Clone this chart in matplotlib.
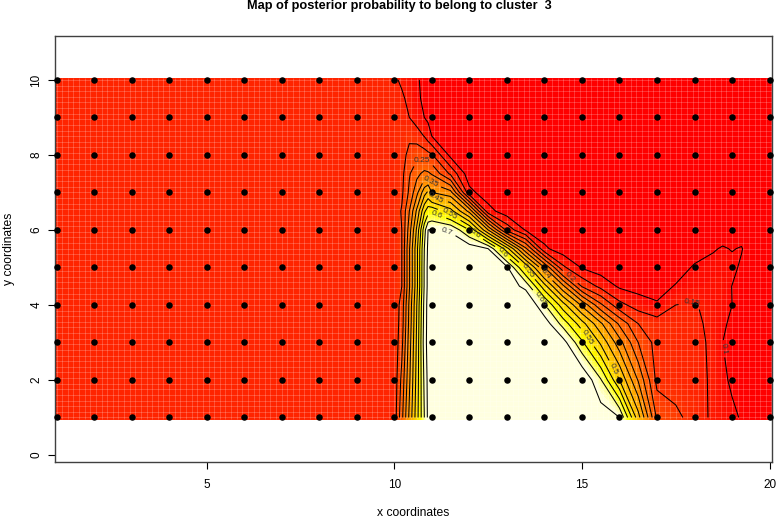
import numpy as np
import matplotlib
matplotlib.use("Agg")
import matplotlib.pyplot as plt
from matplotlib.colors import LinearSegmentedColormap

plt.rcParams['font.family'] = ['Liberation Sans', 'DejaVu Sans']

# posterior probability at these grid nodes
x_nodes = [1, 9, 10, 10.2, 10.4, 10.6, 10.8, 10.9, 11, 11.5, 12, 12.5, 13, 13.5, 14, 14.5, 15, 15.5,
           16, 16.5, 17, 17.5, 18, 18.5, 18.75, 19, 19.25, 19.5, 20]
y_nodes = [1, 2, 3, 3.5, 4, 4.5, 5, 5.5, 6, 6.5, 7, 7.5, 8, 8.5, 9, 9.5, 10]

prob = [
    [.165, .165, .17, .285, .41, .53, .65, .712, .725, .73, .73, .73, .73, .73, .73, .73, .73, .73,
     .70, .47, .24, .215, .175, .14, .125, .112, .095, .08, .07],
    [.165, .165, .165, .265, .39, .52, .66, .715, .725, .73, .73, .73, .73, .73, .73, .73, .75, .655,
     .50, .345, .185, .17, .165, .143, .112, .09, .08, .072, .07],
    [.165, .165, .165, .235, .375, .51, .675, .72, .725, .73, .73, .73, .73, .73, .73, .72, .61, .49,
     .37, .25, .18, .17, .165, .14, .10, .085, .078, .07, .07],
    [.165, .165, .165, .225, .365, .505, .67, .72, .725, .73, .73, .73, .73, .73, .73, .63, .52, .41,
     .29, .20, .175, .17, .165, .132, .108, .09, .08, .07, .07],
    [.165, .165, .165, .22, .36, .50, .665, .72, .725, .73, .73, .73, .73, .76, .655, .52, .39, .26,
     .165, .127, .105, .15, .155, .128, .118, .10, .085, .075, .07],
    [.165, .165, .165, .20, .345, .485, .655, .715, .725, .73, .73, .73, .73, .685, .52, .36, .195, .135,
     .092, .08, .082, .103, .118, .122, .122, .099, .08, .072, .07],
    [.165, .165, .165, .20, .345, .485, .655, .715, .725, .73, .73, .73, .71, .54, .35, .16, .095, .075,
     .07, .07, .07, .08, .105, .118, .118, .115, .09, .072, .07],
    [.165, .165, .165, .20, .345, .485, .65, .71, .72, .73, .73, .70, .52, .31, .11, .07, .07, .07,
     .07, .07, .07, .07, .08, .095, .105, .097, .104, .07, .07],
    [.165, .165, .165, .20, .325, .46, .63, .70, .705, .695, .60, .40, .185, .095, .07, .07, .07, .07,
     .07, .07, .07, .07, .07, .07, .07, .07, .07, .07, .07],
    [.165, .165, .17, .205, .30, .41, .54, .58, .59, .52, .385, .12, .07, .07, .07, .07, .07, .07,
     .07, .07, .07, .07, .07, .07, .07, .07, .07, .07, .07],
    [.165, .165, .17, .19, .26, .335, .43, .46, .40, .367, .115, .07, .07, .07, .07, .07, .07, .07,
     .07, .07, .07, .07, .07, .07, .07, .07, .07, .07, .07],
    [.165, .165, .17, .185, .245, .285, .315, .31, .295, .19, .07, .07, .07, .07, .07, .07, .07, .07,
     .07, .07, .07, .07, .07, .07, .07, .07, .07, .07, .07],
    [.165, .165, .17, .18, .215, .235, .225, .215, .205, .085, .072, .07, .07, .07, .07, .07, .07, .07,
     .07, .07, .07, .07, .07, .07, .07, .07, .07, .07, .07],
    [.165, .165, .17, .175, .19, .175, .148, .125, .10, .08, .07, .07, .07, .07, .07, .07, .07, .07,
     .07, .07, .07, .07, .07, .07, .07, .07, .07, .07, .07],
    [.165, .165, .17, .165, .15, .125, .10, .09, .085, .075, .07, .07, .07, .07, .07, .07, .07, .07,
     .07, .07, .07, .07, .07, .07, .07, .07, .07, .07, .07],
    [.165, .165, .165, .16, .135, .11, .09, .085, .08, .07, .07, .07, .07, .07, .07, .07, .07, .07,
     .07, .07, .07, .07, .07, .07, .07, .07, .07, .07, .07],
    [.165, .165, .16, .14, .125, .105, .09, .085, .08, .07, .07, .07, .07, .07, .07, .07, .07, .07,
     .07, .07, .07, .07, .07, .07, .07, .07, .07, .07, .07],
]

levels = [.1, .15, .2, .25, .3, .35, .4, .45, .5, .55, .6, .65, .7]
# where the contour labels sit
label_pos = [(10.75, 7.77), (10.93, 7.28), (11.1, 6.85), (11.5, 6.46), (11.1, 6.37), (11.37, 5.93),
             (12.13, 5.89), (12.87, 5.38), (13.5, 4.89), (14.03, 4.83), (14.65, 4.72), (13.83, 4.13),
             (15.18, 3.15), (15.9, 2.33), (17.92, 4.08), (18.75, 2.83)]

grid_x = list(range(1, 21))
grid_y = list(range(1, 11))

heat = LinearSegmentedColormap.from_list('heat', [(0, '#ff0000'), (.8, '#ffff00'), (.93, '#ffffd8'), (1, '#ffffe0')])

fig = plt.figure(figsize=(7.76, 5.18), dpi=100)
ax = fig.add_axes([55 / 776, 1 - 462 / 518, (771.5 - 55) / 776, (462 - 36) / 518])

z = np.array(prob)
# the image reaches half a cell past the outer nodes
xe = np.array(x_nodes, dtype=float)
ye = np.array(y_nodes, dtype=float)
xe[0], xe[-1] = 0.95, 20.05
ye[0], ye[-1] = 0.95, 10.05
ax.contourf(xe, ye, z, levels=np.arange(.07, .74, .01), cmap=heat, vmin=.09, vmax=.73,
            extend='both', antialiased=False, zorder=1)

# pale cell seams of the image
seams_x = np.arange(1, 20.05, 0.15)
seams_y = np.arange(1, 10.05, 0.15)
ax.vlines(seams_x, 0.95, 10.05, color='white', lw=0.5, alpha=0.28, zorder=2)
ax.hlines(seams_y, 0.95, 20.05, color='white', lw=0.5, alpha=0.28, zorder=2)

cs = ax.contour(x_nodes, y_nodes, z, levels=levels, colors='black', linewidths=0.75, zorder=3)
ax.clabel(cs, levels, fmt='%g', fontsize=6, colors='#333333', inline=True, manual=label_pos)

gx, gy = np.meshgrid(grid_x, grid_y)
ax.scatter(gx.ravel(), gy.ravel(), s=22, c='black', linewidths=0, zorder=4, clip_on=False)

ax.set_xlim(0.96, 20.05)
ax.set_ylim(-0.187, 11.17)
ax.set_xticks([5, 10, 15, 20])
ax.set_yticks([0, 2, 4, 6, 8, 10])
ax.tick_params(axis='both', length=5, width=0.8, labelsize=8.5)
ax.tick_params(axis='x', pad=7)
ax.tick_params(axis='y', pad=4)
plt.setp(ax.get_yticklabels(), rotation=90, va='center')
for s in ax.spines.values():
    s.set_linewidth(1)
    s.set_color('#404040')

ax.set_xlabel('x coordinates', fontsize=8.7, labelpad=12)
ax.set_ylabel('y coordinates', fontsize=8.7, labelpad=11)
fig.text(399 / 776, 1 - 6.5 / 518, 'Map of posterior probability to belong to cluster  3',
         fontsize=9.2, fontweight='bold', ha='center', va='center')

fig.savefig('out.png', dpi=100)
